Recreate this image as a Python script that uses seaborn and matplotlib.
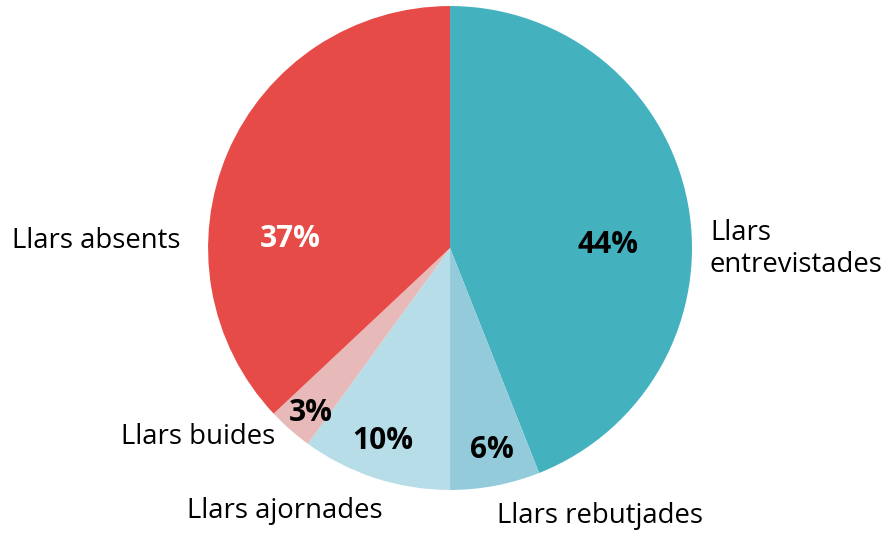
import seaborn as sns
import matplotlib.pyplot as plt

categories = ['Llars entrevistades', 'Llars rebutjades', 'Llars ajornades',
              'Llars buides', 'Llars absents']
shares = [44, 6, 10, 3, 37]
pct_labels = ['44%', '6%', '10%', '3%', '37%']
colors = ['#44b1bf', '#93cbdb', '#b6dde8', '#e8b9b9', '#e64b47']

sns.set_theme(style='white')
plt.rcParams['font.family'] = ['Open Sans', 'DejaVu Sans']

fig = plt.figure(figsize=(8.95, 5.34), dpi=100)
ax = fig.add_axes([0, 0, 1, 1])
palette = sns.color_palette(colors)
ax.pie(shares, colors=palette, startangle=90, counterclock=False,
       radius=1, wedgeprops=dict(linewidth=0))

# percentage labels (inside / near slices)
pct_pos = [(0.653, 0.013), (0.174, -0.836), (-0.277, -0.797),
           (-0.574, -0.681), (-0.661, 0.038)]
pct_col = ['#000000', '#000000', '#000000', '#000000', 'white']
for lab, (x, y), c in zip(pct_labels, pct_pos, pct_col):
    ax.text(x, y, lab, ha='center', va='center', fontsize=21.5,
            fontweight='bold', color=c)

# category labels
lab_size = 19.8
ax.text(1.074, -0.004, 'Llars\nentrevistades', ha='left', va='center',
        fontsize=lab_size, color='#000000', linespacing=1.15)
ax.text(-1.116, 0.029, 'Llars absents', ha='right', va='center',
        fontsize=lab_size, color='#000000')
ax.text(-0.723, -0.781, 'Llars buides', ha='right', va='center',
        fontsize=lab_size, color='#000000')
ax.text(-0.682, -1.086, 'Llars ajornades', ha='center', va='center',
        fontsize=lab_size, color='#000000')
ax.text(0.194, -1.107, 'Llars rebutjades', ha='left', va='center',
        fontsize=lab_size, color='#000000')

ax.set_xlim(-1.860, 1.839)
ax.set_ylim(-1.182, 1.025)
ax.set_aspect('equal')
ax.axis('off')
fig.savefig('out.png', dpi=100)
